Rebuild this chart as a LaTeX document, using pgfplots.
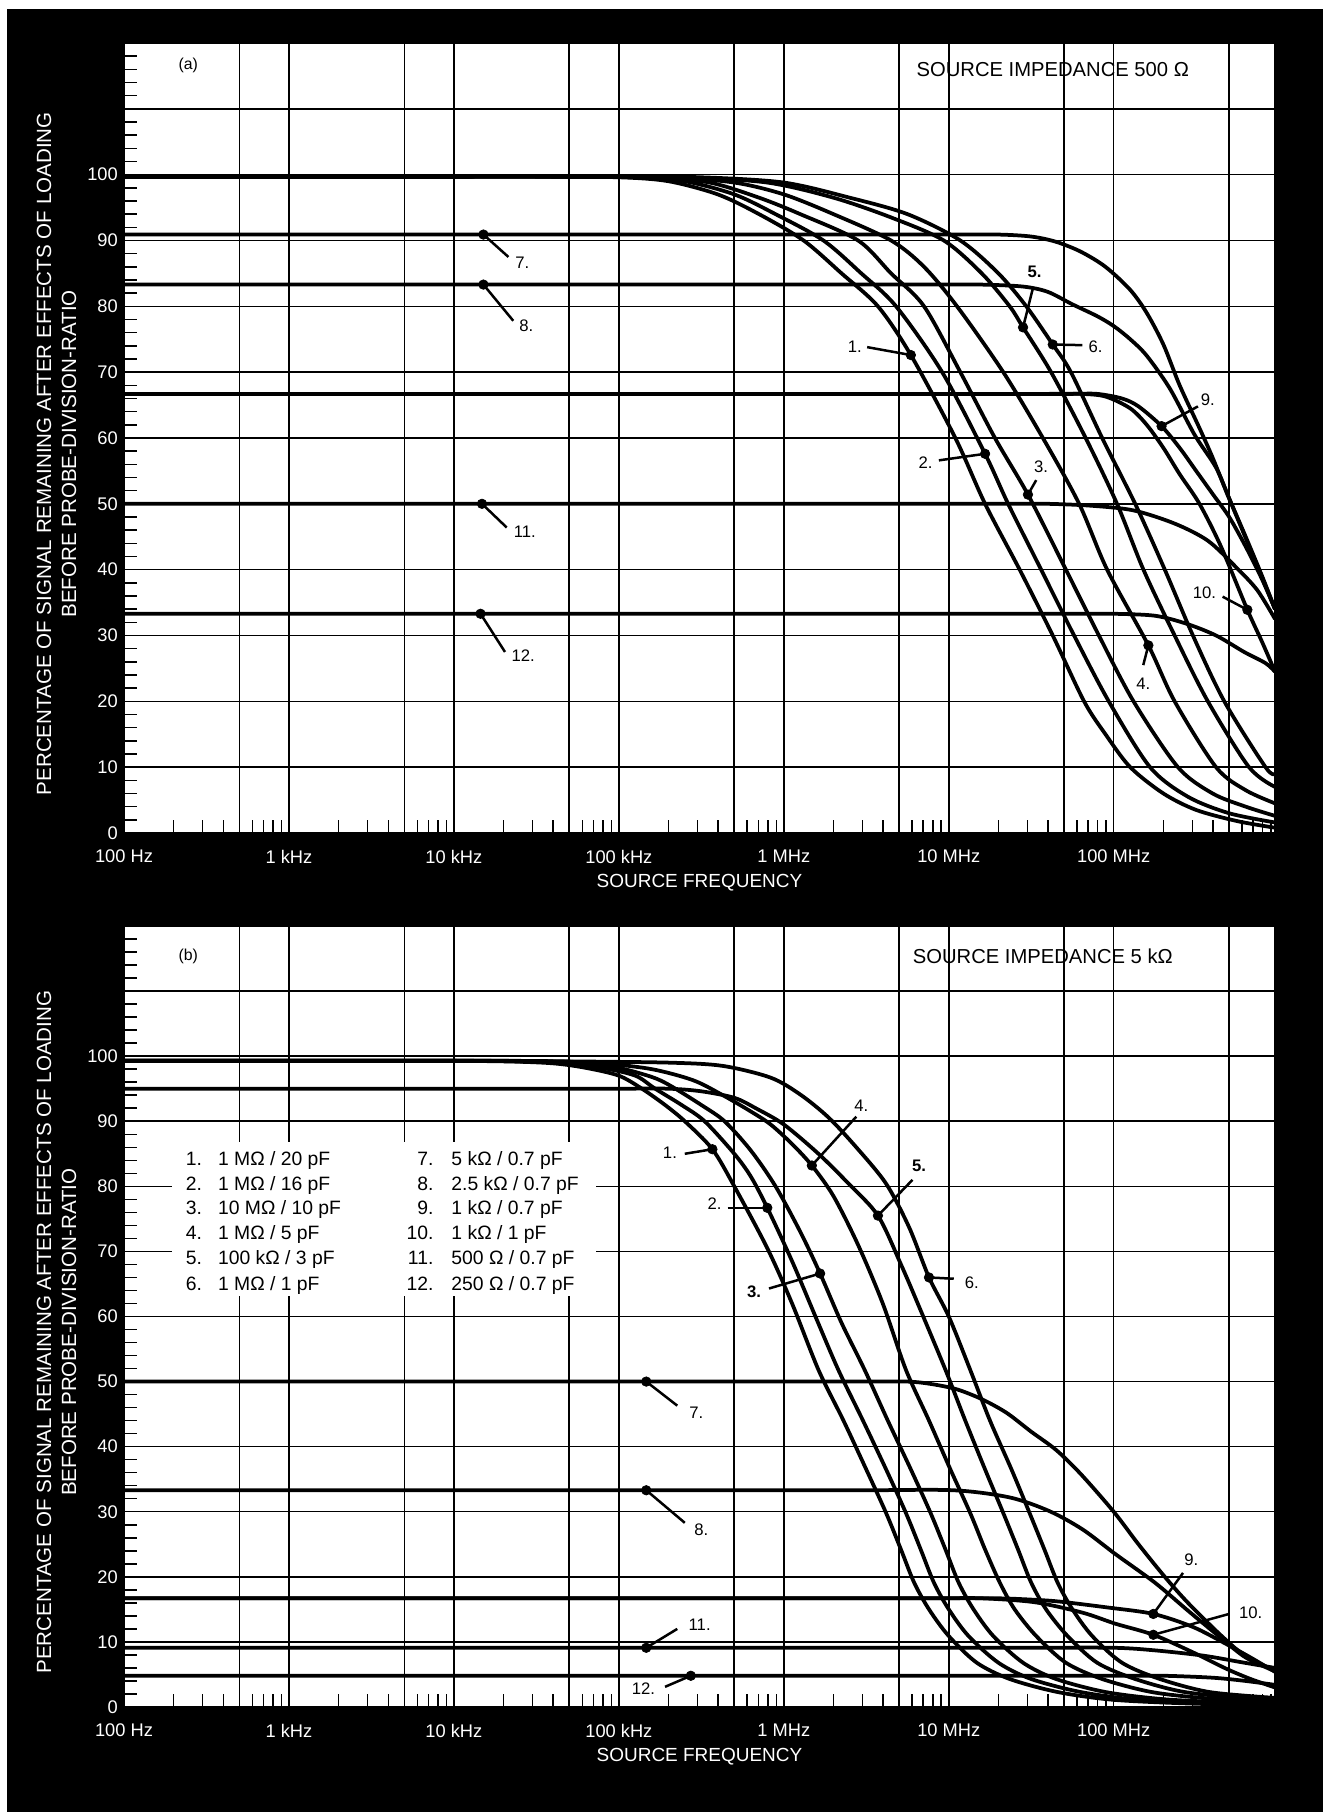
\documentclass[border=0pt]{standalone}
\usepackage{fontspec}
\setmainfont{Liberation Sans}
\usepackage{pgfplots}
\pgfplotsset{compat=1.18}

% 1 px of the scan = 0.2 mm
\pgfplotsset{
  crv/.style={smooth, black, line width=0.75mm, mark=none},
  dot/.style={only marks, black, mark=*, mark size=0.95mm},
  lead/.style={black, line width=0.5mm, mark=none},
}
\tikzset{
  lbl/.style={font=\fontsize{9.5}{11}\selectfont, inner sep=0pt, text=black},
  ttl/.style={font=\fontsize{11.5}{13}\selectfont, inner sep=0pt, text=black},
  lg/.style={font=\fontsize{11}{13}\selectfont, inner sep=0pt, text=black, yshift=-1.4mm},
}

\begin{document}
\begin{tikzpicture}
\fill[white] (0,0) rectangle (265.2mm,362.4mm);
\useasboundingbox (0,0) rectangle (265.2mm,362.4mm);
\fill[black] (1.4mm,0) rectangle (264.6mm,360.6mm);

% ---------------- (a) source impedance 500 ohm ----------------
\begin{axis}[
    at={(24.8mm,195.8mm)}, anchor=south west,
    scale only axis, width=230.2mm, height=158mm,
    xmode=log, xmin=100, xmax=9.5e8, ymin=0, ymax=120,
    clip mode=individual,
    axis background/.style={fill=white},
    axis line style={black, line width=0.3mm},
    xtick={100,1000,1e4,1e5,1e6,1e7,1e8},
    xticklabels={100 Hz,1 kHz,10 kHz,100 kHz,1 MHz,10 MHz,100 MHz},
    extra x ticks={500,5000,5e4,5e5,5e6,5e7,5e8},
    extra x tick labels={},
    minor xtick={200,300,400,600,700,800,900,2000,3000,4000,6000,7000,8000,9000,
      2e4,3e4,4e4,6e4,7e4,8e4,9e4,2e5,3e5,4e5,6e5,7e5,8e5,9e5,
      2e6,3e6,4e6,6e6,7e6,8e6,9e6,2e7,3e7,4e7,6e7,7e7,8e7,9e7,
      2e8,3e8,4e8,6e8,7e8,8e8,9e8},
    ytick={0,10,...,100},
    extra y ticks={110,120},
    extra y tick labels={},
    minor ytick={0,2,...,120},
    extra tick style={grid=major},
    xmajorgrids, ymajorgrids,
    grid style={black, line width=0.3mm},
    tick align=inside, tick pos=left,
    major tick length=2.6mm, minor tick length=2.6mm,
    tick style={black, line width=0.3mm},
    /pgf/number format/assume math mode=true,
    tick label style={text=white, font=\fontsize{10.4}{12}\selectfont},
    xticklabel style={yshift=-2.2mm},
    xlabel={SOURCE FREQUENCY},
    xlabel style={text=white, font=\fontsize{10.8}{13}\selectfont,
      at={(axis description cs:0.5,0)}, anchor=center, yshift=-10mm},
    ylabel={PERCENTAGE OF SIGNAL REMAINING AFTER EFFECTS OF LOADING\\BEFORE PROBE-DIVISION-RATIO},
    ylabel style={text=white, align=center, font=\fontsize{11.7}{14.2}\selectfont,
      at={(axis description cs:-0.0586,0.48)}, anchor=center},
  ]
\addplot[crv] coordinates {(100,99.7) (1e3,99.7) (1e4,99.7) (3.16e4,99.7) (1e5,99.6) (2e5,99.0) (3.98e5,97.0) (7.08e5,94.0) (1.318e6,90) (2.24e6,85) (3.72e6,80) (5.89e6,72.6) (1.096e7,60) (1.66e7,50) (2.69e7,40) (4.27e7,30) (6.61e7,20) (8.91e7,15) (1.259e8,10) (2e8,6) (3.16e8,3.5) (5.62e8,1.8) (9.5e8,0.8)};
\addplot[crv] coordinates {(100,99.7) (1e3,99.7) (1e4,99.7) (3.98e4,99.7) (1.259e5,99.6) (2.51e5,99.0) (5.01e5,97.0) (8.91e5,94) (1.738e6,90) (2.95e6,85) (4.79e6,80) (9.12e6,70) (1.66e7,57.6) (2.29e7,50) (3.63e7,40) (5.75e7,30) (9.33e7,20) (1.66e8,10) (2.82e8,5.5) (5.01e8,3) (9.5e8,1.6)};
\addplot[crv] coordinates {(100,99.7) (1e3,99.7) (1e4,99.7) (5.01e4,99.7) (1.585e5,99.6) (3.55e5,98.8) (7.08e5,96.5) (1.259e6,94) (2.82e6,90) (4.47e6,85) (7.08e6,80) (1.175e7,70) (1.905e7,60) (3.02e7,51.4) (5.13e7,40) (8.13e7,30) (1.318e8,20) (2.45e8,10) (3.98e8,6) (6.31e8,4) (9.5e8,2.6)};
\addplot[crv] coordinates {(100,99.7) (1e3,99.7) (1e4,99.7) (6.31e4,99.7) (2e5,99.6) (5.01e5,98.8) (1e6,97) (2e6,94) (4.47e6,90) (7.08e6,86) (1.122e7,80) (2.14e7,70) (3.72e7,60) (6.17e7,50) (9.12e7,40) (1.622e8,28.5) (2.34e8,20) (4.17e8,10) (6.31e8,6.5) (9.5e8,4.5)};
\addplot[crv] coordinates {(100,99.7) (1e3,99.7) (1e4,99.7) (7.94e4,99.7) (2.51e5,99.6) (7.94e5,98.8) (2e6,96.5) (4.47e6,93.5) (9.33e6,90) (1.585e7,85) (2.34e7,80) (2.82e7,76.8) (4.17e7,70) (6.76e7,60) (1.047e8,50) (1.514e8,40) (2.34e8,30) (3.72e8,20) (6.61e8,10) (9.5e8,7)};
\addplot[crv] coordinates {(100,99.7) (1e3,99.7) (1e4,99.7) (1e5,99.7) (3.16e5,99.6) (1e6,98.8) (2.51e6,96.5) (5.62e6,94) (1.175e7,90) (2e7,85) (2.95e7,80) (4.27e7,74.2) (5.5e7,70) (8.51e7,60) (1.349e8,50) (2.04e8,40) (3.02e8,30) (4.68e8,20) (8.32e8,10) (9.5e8,9)};
\addplot[crv] coordinates {(100,90.9) (3.16e3,90.9) (1e5,90.9) (1e6,90.9) (3.98e6,90.9) (1e7,90.9) (2e7,90.9) (3.16e7,90.6) (4.47e7,89.8) (6.31e7,88.3) (8.91e7,86) (1.259e8,82.5) (1.585e8,79) (2e8,74.2) (2.51e8,68) (3.31e8,61.5) (3.98e8,57) (4.9e8,51.4) (6.31e8,45) (7.94e8,39) (9.5e8,34)};
\addplot[crv] coordinates {(100,83.3) (3.16e3,83.3) (1e5,83.3) (1e6,83.3) (3.16e6,83.3) (7.94e6,83.3) (1.585e7,83.3) (2.82e7,83) (3.98e7,82.2) (5.62e7,80.3) (7.94e7,78.5) (1e8,77) (1.259e8,75) (1.585e8,72.5) (2.19e8,67.5) (3.09e8,60.5) (4.17e8,55.5) (5.01e8,50.8) (6.31e8,44.8) (7.94e8,38.8) (9.5e8,34)};
\addplot[crv] coordinates {(100,66.7) (3.16e3,66.7) (1e5,66.7) (1.585e6,66.7) (1e7,66.7) (3.16e7,66.7) (5.62e7,66.7) (7.94e7,66.7) (1.122e8,66) (1.413e8,64.8) (1.95e8,61.8) (2.51e8,58.5) (3.16e8,55) (3.98e8,51.5) (5.01e8,48) (6.31e8,43.5) (7.94e8,38.5) (9.5e8,34)};
\addplot[crv] coordinates {(100,66.7) (3.16e3,66.7) (1e5,66.7) (1.585e6,66.7) (7.94e6,66.7) (2.24e7,66.7) (3.98e7,66.7) (6.31e7,66.7) (8.91e7,66.3) (1.259e8,64.5) (1.585e8,62) (2e8,58.5) (2.51e8,54.5) (3.31e8,50) (4.47e8,43.5) (6.46e8,33.9) (7.94e8,29) (9.5e8,24.5)};
\addplot[crv] coordinates {(100,50) (3.16e3,50) (1e5,50) (1.585e6,50) (7.94e6,50) (2e7,50) (3.98e7,50) (7.41e7,49.7) (1.318e8,49) (2.34e8,47) (3.72e8,44.4) (5.5e8,40.4) (7.41e8,36.9) (9.5e8,32.5)};
\addplot[crv] coordinates {(100,33.3) (3.16e3,33.3) (1e5,33.3) (1.585e6,33.3) (1e7,33.3) (3.16e7,33.3) (6.31e7,33.3) (1e8,33.3) (1.778e8,33.0) (2.75e8,31.8) (4.17e8,30) (6.17e8,27.5) (8.32e8,25.8) (9.5e8,24.5)};
% markers and leaders
\addplot[dot] coordinates {(5.89e6,72.6) (1.66e7,57.6) (3.02e7,51.4) (1.622e8,28.5) (2.82e7,76.8) (4.27e7,74.2) (1.51e4,90.9) (1.51e4,83.3) (1.95e8,61.8) (6.46e8,33.9) (1.48e4,50) (1.45e4,33.3)};
\addplot[lead] coordinates {(3.2e6,73.8) (5.89e6,72.6)};
\addplot[lead] coordinates {(8.71e6,56.6) (1.66e7,57.6)};
\addplot[lead] coordinates {(3.39e7,53.6) (3.02e7,51.4)};
\addplot[lead] coordinates {(1.622e8,28.5) (1.51e8,25.5)};
\addplot[lead] coordinates {(2.82e7,76.8) (3.24e7,82.8)};
\addplot[lead] coordinates {(4.27e7,74.2) (6.46e7,74.1)};
\addplot[lead] coordinates {(1.51e4,90.9) (2.14e4,87.5)};
\addplot[lead] coordinates {(1.51e4,83.3) (2.29e4,77.8)};
\addplot[lead] coordinates {(1.95e8,61.8) (3.24e8,64.8)};
\addplot[lead] coordinates {(4.57e8,35.9) (6.46e8,33.9)};
\addplot[lead] coordinates {(1.48e4,50) (2.09e4,46.4)};
\addplot[lead] coordinates {(1.45e4,33.3) (2.04e4,27.5)};
\node[lbl] at (axis cs:2.69e6,73.8) {1.};
\node[lbl] at (axis cs:7.24e6,56.2) {2.};
\node[lbl] at (axis cs:3.63e7,55.7) {3.};
\node[lbl] at (axis cs:1.51e8,22.6) {4.};
\node[lbl, font=\fontsize{9.5}{11}\selectfont\bfseries] at (axis cs:3.31e7,85.3) {5.};
\node[lbl] at (axis cs:7.76e7,73.8) {6.};
\node[lbl] at (axis cs:2.6e4,86.6) {7.};
\node[lbl] at (axis cs:2.75e4,77.0) {8.};
\node[lbl] at (axis cs:3.72e8,65.8) {9.};
\node[lbl] at (axis cs:3.55e8,36.5) {10.};
\node[lbl] at (axis cs:2.69e4,45.8) {11.};
\node[lbl] at (axis cs:2.63e4,27.0) {12.};
\node[lbl, font=\fontsize{9}{11}\selectfont] at (axis cs:245,116.6) {(a)};
\node[ttl] at (axis cs:4.27e7,115.9) {SOURCE IMPEDANCE 500 Ω};
\end{axis}

% ---------------- (b) source impedance 5 kohm ----------------
\begin{axis}[
    at={(24.8mm,21mm)}, anchor=south west,
    scale only axis, width=230.2mm, height=156.2mm,
    xmode=log, xmin=100, xmax=9.5e8, ymin=0, ymax=120,
    clip mode=individual,
    axis background/.style={fill=white},
    axis line style={black, line width=0.3mm},
    xtick={100,1000,1e4,1e5,1e6,1e7,1e8},
    xticklabels={100 Hz,1 kHz,10 kHz,100 kHz,1 MHz,10 MHz,100 MHz},
    extra x ticks={500,5000,5e4,5e5,5e6,5e7,5e8},
    extra x tick labels={},
    minor xtick={200,300,400,600,700,800,900,2000,3000,4000,6000,7000,8000,9000,
      2e4,3e4,4e4,6e4,7e4,8e4,9e4,2e5,3e5,4e5,6e5,7e5,8e5,9e5,
      2e6,3e6,4e6,6e6,7e6,8e6,9e6,2e7,3e7,4e7,6e7,7e7,8e7,9e7,
      2e8,3e8,4e8,6e8,7e8,8e8,9e8},
    ytick={0,10,...,100},
    extra y ticks={110,120},
    extra y tick labels={},
    minor ytick={0,2,...,120},
    extra tick style={grid=major},
    xmajorgrids, ymajorgrids,
    grid style={black, line width=0.3mm},
    tick align=inside, tick pos=left,
    major tick length=2.6mm, minor tick length=2.6mm,
    tick style={black, line width=0.3mm},
    /pgf/number format/assume math mode=true,
    tick label style={text=white, font=\fontsize{10.4}{12}\selectfont},
    xticklabel style={yshift=-2.2mm},
    xlabel={SOURCE FREQUENCY},
    xlabel style={text=white, font=\fontsize{10.8}{13}\selectfont,
      at={(axis description cs:0.5,0)}, anchor=center, yshift=-10mm},
    ylabel={PERCENTAGE OF SIGNAL REMAINING AFTER EFFECTS OF LOADING\\BEFORE PROBE-DIVISION-RATIO},
    ylabel style={text=white, align=center, font=\fontsize{11.7}{14.2}\selectfont,
      at={(axis description cs:-0.0586,0.48)}, anchor=center},
  ]
\fill[white] (axis cs:195,63.1) rectangle (axis cs:7.24e4,86.8);
\addplot[crv] coordinates {(100,99.3) (1e3,99.3) (6.31e3,99.3) (2e4,99.2) (3.98e4,98.9) (6.31e4,98.2) (1e5,97) (1.38e5,95) (1.905e5,92.5) (2.51e5,90) (3.69e5,85.7) (5.01e5,80) (7.94e5,70.5) (1.122e6,62) (1.622e6,51.8) (2.29e6,44.1) (3.16e6,36.5) (4.17e6,29.8) (5.13e6,24.2) (6.17e6,19.1) (7.59e6,15) (1e7,10.9) (1.479e7,6.8) (2.34e7,4.3) (4.57e7,2.3) (1e8,1.1) (3.16e8,0.5) (9.5e8,0.3)};
\addplot[crv] coordinates {(100,99.3) (1e3,99.3) (7.94e3,99.3) (2.51e4,99.2) (5.01e4,98.9) (7.94e4,98.2) (1.259e5,97) (1.66e5,95) (2.4e5,92.5) (3.31e5,90) (5.01e5,85) (6.31e5,81.5) (7.94e5,76.7) (1.122e6,68.5) (1.585e6,59.5) (2.14e6,51.8) (3.02e6,44) (4.17e6,36.5) (5.5e6,29.8) (6.76e6,24.2) (8.13e6,19.1) (1e7,15) (1.318e7,10.9) (2e7,6.8) (3.16e7,4.3) (6.31e7,2.3) (1.413e8,1.1) (3.98e8,0.6) (9.5e8,0.4)};
\addplot[crv] coordinates {(100,99.3) (1e3,99.3) (1e4,99.3) (3.16e4,99.2) (6.31e4,98.9) (1e5,98.2) (1.585e5,96.8) (2.04e5,95.5) (3.16e5,92.5) (4.37e5,90) (6.31e5,85.5) (8.91e5,80) (1.259e6,73) (1.66e6,66.6) (2.24e6,59) (3.09e6,51.8) (4.27e6,44) (5.89e6,36.5) (7.76e6,29.8) (9.55e6,24.2) (1.148e7,19.1) (1.413e7,15) (1.862e7,10.9) (2.82e7,6.8) (4.47e7,4.3) (8.91e7,2.3) (2e8,1.2) (5.01e8,0.7) (9.5e8,0.5)};
\addplot[crv] coordinates {(100,99.3) (1e3,99.3) (1.259e4,99.3) (3.98e4,99.2) (7.94e4,98.9) (1.585e5,98) (2.82e5,96.3) (4.27e5,94) (6.31e5,91.5) (8.32e5,89.5) (1.122e6,86.5) (1.479e6,83.2) (2e6,78.5) (2.82e6,71) (3.98e6,62) (5.5e6,51.8) (7.59e6,44) (1.023e7,36.5) (1.349e7,29.8) (1.66e7,24.2) (2.04e7,19.1) (2.51e7,15) (3.39e7,10.9) (5.13e7,6.8) (8.51e7,4.3) (1.698e8,2.3) (3.8e8,1.3) (9.5e8,0.8)};
\addplot[crv] coordinates {(100,95) (1e3,95) (1e4,95) (3.98e4,95) (1e5,95) (2e5,95) (3.16e5,94.6) (5.01e5,93.6) (6.76e5,92) (1e6,89.5) (1.622e6,85) (2.45e6,80.5) (3.72e6,75.5) (5.13e6,68) (6.61e6,61.5) (9.55e6,51.8) (1.259e7,44) (1.66e7,36.5) (2.14e7,29.8) (2.63e7,24.2) (3.16e7,19.1) (3.89e7,15) (5.25e7,10.9) (7.94e7,6.8) (1.349e8,4.3) (2.69e8,2.3) (7.08e8,1.2) (9.5e8,1.0)};
\addplot[crv] coordinates {(100,99.3) (1e3,99.3) (1.585e4,99.3) (5.01e4,99.2) (2.04e5,99) (4.27e5,98.5) (8.32e5,96.7) (1.259e6,94.1) (1.862e6,90.6) (2.75e6,86) (4.17e6,80.4) (5.75e6,73.7) (7.59e6,66) (1e7,60) (1.349e7,51.8) (1.778e7,44) (2.4e7,36.5) (3.09e7,29.8) (3.8e7,24.2) (4.57e7,19.1) (5.62e7,15) (7.41e7,10.9) (1.122e8,6.8) (1.905e8,4.3) (3.8e8,2.3) (9.5e8,1.4)};
\addplot[crv] coordinates {(100,50) (3.16e3,50) (6.31e4,50) (3.98e5,50) (1.259e6,50) (2.82e6,50) (5.62e6,50) (7.94e6,49.6) (1.122e7,48.8) (1.585e7,47.3) (2.24e7,45.2) (3.16e7,42.3) (4.47e7,39.5) (6.31e7,35.8) (1e8,30) (1.413e8,25) (2.04e8,20) (2.82e8,16) (4.47e8,11) (6.31e8,7.8) (9.5e8,5.6)};
\addplot[crv] coordinates {(100,33.3) (3.16e3,33.3) (1e5,33.3) (7.94e5,33.3) (3.16e6,33.3) (1.072e7,33.3) (2.34e7,32.2) (4.07e7,30.1) (6.46e7,27.3) (1.023e8,23.5) (1.778e8,19.1) (2.82e8,14.8) (4.47e8,10.6) (6.31e8,7.6) (9.5e8,5.5)};
\addplot[crv] coordinates {(100,16.7) (3.16e3,16.7) (1e5,16.7) (1e6,16.7) (3.98e6,16.7) (1e7,16.7) (2e7,16.7) (3.16e7,16.5) (4.68e7,16.2) (9.12e7,15.3) (1.738e8,14.3) (3.02e8,12.3) (4.79e8,9.7) (6.76e8,7.6) (9.5e8,5.4)};
\addplot[crv] coordinates {(100,16.7) (3.16e3,16.7) (1e5,16.7) (1e6,16.7) (3.98e6,16.7) (8.91e6,16.7) (1.585e7,16.7) (3.31e7,16.1) (6.46e7,14.5) (1.023e8,12.8) (1.738e8,11.1) (3.02e8,8.4) (4.79e8,5.9) (6.76e8,4.3) (9.5e8,3.0)};
\addplot[crv] coordinates {(100,9.1) (3.16e3,9.1) (1e5,9.1) (1.585e6,9.1) (1e7,9.1) (3.16e7,9.1) (1e8,9.1) (1.778e8,8.7) (3.47e8,7.9) (5.89e8,6.9) (9.5e8,6.0)};
\addplot[crv] coordinates {(100,4.8) (3.16e3,4.8) (1e5,4.8) (1.585e6,4.8) (1e7,4.8) (3.98e7,4.8) (1e8,4.8) (2e8,4.8) (3.98e8,4.5) (6.31e8,4.0) (9.5e8,3.4)};
% markers and leaders
\addplot[dot] coordinates {(3.69e5,85.7) (7.94e5,76.7) (1.66e6,66.6) (1.479e6,83.2) (3.72e6,75.5) (7.59e6,66) (1.466e5,50) (1.466e5,33.3) (1.738e8,14.3) (1.738e8,11.1) (1.466e5,9.1) (2.73e5,4.8)};
\addplot[lead] coordinates {(2.51e5,85.0) (3.69e5,85.7)};
\addplot[lead] coordinates {(4.57e5,76.7) (7.94e5,76.7)};
\addplot[lead] coordinates {(8.13e5,64.3) (1.66e6,66.6)};
\addplot[lead] coordinates {(1.479e6,83.2) (2.75e6,90.7)};
\addplot[lead] coordinates {(3.72e6,75.5) (6.03e6,81)};
\addplot[lead] coordinates {(7.59e6,66) (1.072e7,65.8)};
\addplot[lead] coordinates {(1.466e5,50) (2.26e5,46.3)};
\addplot[lead] coordinates {(1.466e5,33.3) (2.51e5,28.3)};
\addplot[lead] coordinates {(1.738e8,14.3) (2.63e8,20.6)};
\addplot[lead] coordinates {(1.738e8,11.1) (5.01e8,14.3)};
\addplot[lead] coordinates {(1.466e5,9.1) (2.26e5,12.0)};
\addplot[lead] coordinates {(1.905e5,3.1) (2.73e5,4.8)};
\node[lbl] at (axis cs:2.04e5,85.1) {1.};
\node[lbl] at (axis cs:3.8e5,77.3) {2.};
\node[lbl, font=\fontsize{9.5}{11}\selectfont\bfseries] at (axis cs:6.61e5,63.8) {3.};
\node[lbl] at (axis cs:2.95e6,92.4) {4.};
\node[lbl, font=\fontsize{9.5}{11}\selectfont\bfseries] at (axis cs:6.61e6,83.1) {5.};
\node[lbl] at (axis cs:1.38e7,65.2) {6.};
\node[lbl] at (axis cs:2.95e5,45.2) {7.};
\node[lbl] at (axis cs:3.16e5,27.3) {8.};
\node[lbl] at (axis cs:2.95e8,22.7) {9.};
\node[lbl] at (axis cs:6.76e8,14.5) {10.};
\node[lbl] at (axis cs:3.09e5,12.7) {11.};
\node[lbl] at (axis cs:1.41e5,2.8) {12.};
\node[lbl, font=\fontsize{9}{11}\selectfont] at (axis cs:245,115.4) {(b)};
\node[ttl] at (axis cs:3.72e7,115.4) {SOURCE IMPEDANCE 5 kΩ};
% key
\node[lg, anchor=base east] at (axis cs:299,84.3) {1.};
\node[lg, anchor=base east] at (axis cs:299,80.5) {2.};
\node[lg, anchor=base east] at (axis cs:299,76.7) {3.};
\node[lg, anchor=base east] at (axis cs:299,72.9) {4.};
\node[lg, anchor=base east] at (axis cs:299,69.0) {5.};
\node[lg, anchor=base east] at (axis cs:299,65.1) {6.};
\node[lg, anchor=base west] at (axis cs:370,84.3) {1 MΩ / 20 pF};
\node[lg, anchor=base west] at (axis cs:370,80.5) {1 MΩ / 16 pF};
\node[lg, anchor=base west] at (axis cs:370,76.7) {10 MΩ / 10 pF};
\node[lg, anchor=base west] at (axis cs:370,72.9) {1 MΩ / 5 pF};
\node[lg, anchor=base west] at (axis cs:370,69.0) {100 kΩ / 3 pF};
\node[lg, anchor=base west] at (axis cs:370,65.1) {1 MΩ / 1 pF};
\node[lg, anchor=base east] at (axis cs:7550,84.3) {7.};
\node[lg, anchor=base east] at (axis cs:7550,80.5) {8.};
\node[lg, anchor=base east] at (axis cs:7550,76.7) {9.};
\node[lg, anchor=base east] at (axis cs:7550,72.9) {10.};
\node[lg, anchor=base east] at (axis cs:7550,69.0) {11.};
\node[lg, anchor=base east] at (axis cs:7550,65.1) {12.};
\node[lg, anchor=base west] at (axis cs:9620,84.3) {5 kΩ / 0.7 pF};
\node[lg, anchor=base west] at (axis cs:9620,80.5) {2.5 kΩ / 0.7 pF};
\node[lg, anchor=base west] at (axis cs:9620,76.7) {1 kΩ / 0.7 pF};
\node[lg, anchor=base west] at (axis cs:9620,72.9) {1 kΩ / 1 pF};
\node[lg, anchor=base west] at (axis cs:9620,69.0) {500 Ω / 0.7 pF};
\node[lg, anchor=base west] at (axis cs:9620,65.1) {250 Ω / 0.7 pF};
\end{axis}
\end{tikzpicture}
\end{document}
